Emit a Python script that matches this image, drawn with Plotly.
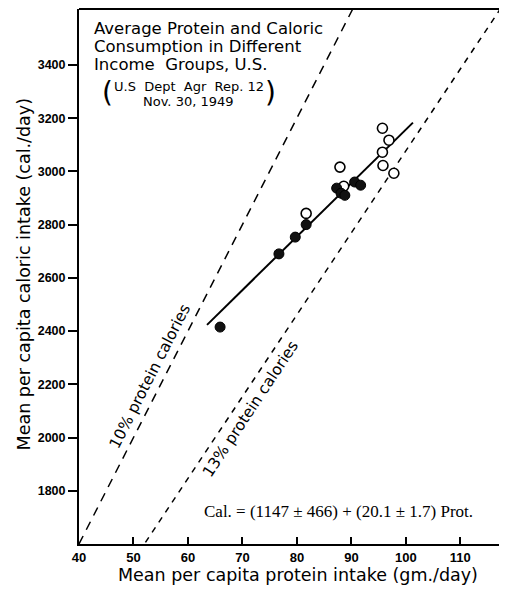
import plotly.graph_objects as go

# Data
filled_protein = [65.9, 76.7, 79.7, 81.7, 87.3, 88.1, 88.8, 90.6, 91.7]
filled_cal = [2415, 2690, 2753, 2800, 2937, 2918, 2910, 2960, 2948]
open_protein = [81.7, 87.9, 88.6, 95.7, 96.9, 95.7, 95.8, 97.8]
open_cal = [2842, 3016, 2944, 3162, 3117, 3072, 3022, 2993]

fit_intercept = 1147
fit_slope = 20.1
fit_range = [63.5, 101.3]

x_ticks = [40, 50, 60, 70, 80, 90, 100, 110]
y_ticks = [1800, 2000, 2200, 2400, 2600, 2800, 3000, 3200, 3400]

x_range = [40, 118.2]
y_range = [1600, 3610]

pct10 = 0.10
pct13 = 0.13

font_main = "DejaVu Sans"
font_tick = "Liberation Sans"

fig = go.Figure()

# reference lines: calories = 4 * protein / pct
def ref_line(pct, dash):
    xs = [x_range[0], x_range[1]]
    ys = [4 * x / pct for x in xs]
    fig.add_trace(go.Scatter(x=xs, y=ys, mode="lines",
                             line=dict(color="black", width=1.5, dash=dash),
                             hoverinfo="skip", showlegend=False))

ref_line(pct10, "9px,7px")
ref_line(pct13, "6px,6px")

fig.add_trace(go.Scatter(
    x=fit_range, y=[fit_intercept + fit_slope * x for x in fit_range],
    mode="lines", line=dict(color="black", width=2), showlegend=False))

fig.add_trace(go.Scatter(
    x=open_protein, y=open_cal, mode="markers",
    marker=dict(size=10, color="white", line=dict(color="black", width=1.6)),
    showlegend=False))
fig.add_trace(go.Scatter(
    x=filled_protein, y=filled_cal, mode="markers",
    marker=dict(size=10, color="#111", line=dict(color="black", width=1)),
    showlegend=False))

def txt(x, y, s, size, family=font_main, xanchor="center", angle=0):
    return dict(x=x, y=y, xref="paper", yref="paper", xanchor=xanchor, yanchor="middle",
                text=s, showarrow=False, textangle=angle,
                font=dict(family=family, size=size, color="black"))

ann = [
    txt(0.0305, 0.963, "Average Protein and Caloric", 16.5, xanchor="left"),
    txt(0.0305, 0.930, "Consumption in Different", 16.5, xanchor="left"),
    txt(0.0305, 0.896, "Income  Groups, U.S.", 16.5, xanchor="left"),
    txt(0.258, 0.856, "U.S  Dept  Agr  Rep. 12", 13),
    txt(0.258, 0.828, "Nov. 30, 1949", 13),
    txt(0.068, 0.843, "(", 28),
    txt(0.45, 0.843, ")", 28),
    txt(0.167, 0.314, "10% protein calories", 15.5, angle=-63),
    txt(0.403, 0.252, "13% protein calories", 15.5, angle=-56.5),
    txt(0.608, 0.060, "Cal. = (1147 ± 466) + (20.1 ± 1.7) Prot.", 17, family="Liberation Serif"),
    txt(0.514, -0.058, "Mean per capita protein intake (gm./day)", 17.5),
    txt(-0.129, 0.504, "Mean per capita caloric intake (cal./day)", 17.5, angle=-90),
]

# page body has an 8px margin, so the figure is sized to fit the window
fig.update_layout(
    width=499, height=586,
    margin=dict(l=71, r=2, t=1, b=50),
    paper_bgcolor="white", plot_bgcolor="white",
    annotations=ann,
    shapes=[dict(type="line", xref="paper", yref="paper", x0=0, x1=1, y0=1, y1=1,
                 line=dict(color="black", width=2))],
    font=dict(family=font_main, color="black"),
)
fig.update_xaxes(range=x_range, tickvals=x_ticks, ticks="inside", ticklen=7, tickwidth=1.5,
                 tickcolor="black", showline=True, linecolor="black", linewidth=2,
                 showgrid=False, zeroline=False, automargin=False,
                 tickfont=dict(family=font_tick, size=13, color="black", weight="bold"))
fig.update_yaxes(range=y_range, tickvals=y_ticks, ticks="outside", ticklen=9, tickwidth=1.5,
                 tickcolor="black", showline=True, linecolor="black", linewidth=2,
                 showgrid=False, zeroline=False, automargin=False,
                 tickfont=dict(family=font_tick, size=12.5, color="black", weight="bold"))

fig.write_html("out.html")
